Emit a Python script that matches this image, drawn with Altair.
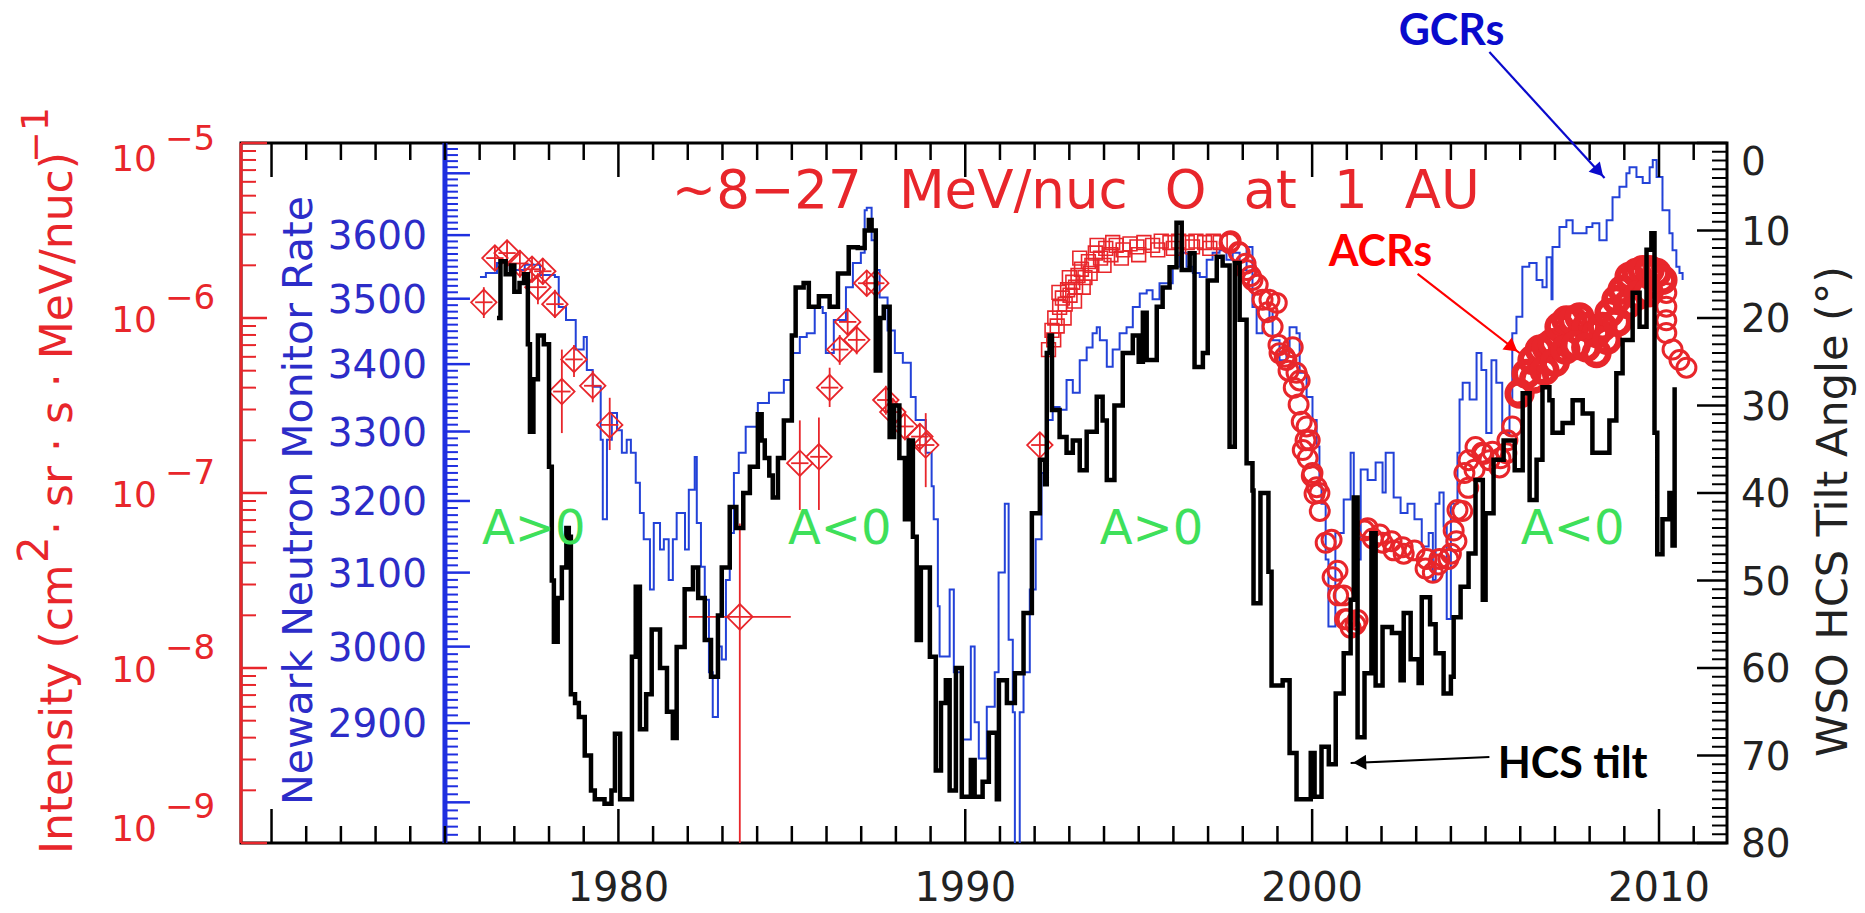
import altair as alt
import pandas as pd

# ---------------------------------------------------------------- layout
W, H = 1486, 700
PAD = {"left": 241, "top": 143, "right": 138, "bottom": 70}
X_DOMAIN = [1969.12, 2011.96]
TILT_DOMAIN = [0, 80]
INT_DOMAIN = [1e-9, 1e-5]
NM_DOMAIN = [2750, 3750]
NM_AXIS_YEAR = 1975

FONT = "DejaVu Sans"
BOLD = "Lato"
RED = "#e8262b"
BLUE_LINE = "#2342d8"
BLUE_AXIS = "#1f2fe0"
BLUE_TEXT = "#2c2cc8"
GREEN = "#3ee05a"
TXT = "#222222"

# ---------------------------------------------------------------- data
# WSO HCS tilt angle (deg), black stepped line
hcs_year = [1976.50, 1976.60, 1976.75, 1976.90, 1977.00, 1977.15, 1977.28, 1977.39, 1977.45, 1977.55,
            1977.68, 1977.85, 1978.00, 1978.08, 1978.14, 1978.25, 1978.37, 1978.50, 1978.57, 1978.63,
            1978.75, 1978.86, 1979.03, 1979.21, 1979.32, 1979.60, 1979.80, 1979.90, 1980.05, 1980.27,
            1980.39, 1980.50, 1980.62, 1980.80, 1980.96, 1981.20, 1981.40, 1981.57, 1981.68, 1981.91,
            1982.15, 1982.30, 1982.49, 1982.67, 1982.87, 1982.98, 1983.21, 1983.40, 1983.60, 1983.79,
            1984.02, 1984.13, 1984.22, 1984.35, 1984.45, 1984.60, 1984.77, 1985.00, 1985.11, 1985.34,
            1985.49, 1985.78, 1986.09, 1986.33, 1986.64, 1986.90, 1987.10, 1987.22, 1987.30, 1987.42,
            1987.55, 1987.65, 1987.82, 1987.95, 1988.10, 1988.26, 1988.37, 1988.49, 1988.60, 1988.72,
            1988.98, 1989.15, 1989.30, 1989.44, 1989.55, 1989.73, 1989.90, 1990.16, 1990.27, 1990.50,
            1990.68, 1990.91, 1990.97, 1991.20, 1991.43, 1991.68, 1991.92, 1992.15, 1992.30, 1992.35,
            1992.43, 1992.50, 1992.72, 1992.92, 1993.10, 1993.30, 1993.50, 1993.79, 1993.96, 1994.08,
            1994.30, 1994.54, 1994.83, 1995.00, 1995.12, 1995.23, 1995.52, 1995.69, 1995.89, 1996.09,
            1996.24, 1996.47, 1996.61, 1996.85, 1996.99, 1997.25, 1997.42, 1997.62, 1997.77, 1997.91,
            1998.11, 1998.28, 1998.31, 1998.51, 1998.74, 1998.83, 1999.15, 1999.35, 1999.55, 1999.96,
            2000.07, 2000.27, 2000.48, 2000.68, 2000.91, 2001.11, 2001.20, 2001.31, 2001.51, 2001.71,
            2001.83, 2002.03, 2002.30, 2002.55, 2002.64, 2002.84, 2003.07, 2003.16, 2003.40, 2003.56,
            2003.79, 2004.00, 2004.08, 2004.28, 2004.51, 2004.71, 2004.92, 2005.00, 2005.23, 2005.52,
            2005.84, 2006.07, 2006.27, 2006.47, 2006.64, 2006.84, 2006.93, 2007.22, 2007.51, 2007.80,
            2008.08, 2008.28, 2008.57, 2008.77, 2008.95, 2009.24, 2009.44, 2009.64, 2009.78, 2009.87,
            2009.95, 2010.10, 2010.30, 2010.39, 2010.45]
hcs_tilt = [20, 13.5, 15, 14, 17, 16, 15, 23, 33, 27,
            22, 23, 37, 50, 57, 52, 48.5, 44, 45, 63,
            64, 65.6, 70, 74, 75, 75.5, 74, 67.5, 75, 75,
            58.7, 50.7, 67, 63, 55.6, 60, 65, 68, 57.6, 51,
            48.5, 52, 56.8, 61, 54, 48.5, 41.6, 44, 40, 37,
            31, 34, 36, 38, 40.5, 36, 31.7, 22, 16.5, 16,
            18.7, 17.5, 18.7, 14.9, 11.9, 12, 10, 8.8, 10, 26,
            20, 18.7, 33.6, 30, 36, 43, 34, 45, 56.8, 48.5,
            58.7, 71.7, 64, 61.4, 74, 60, 74.7, 70.5, 74.7, 73,
            67.4, 75, 61.4, 64, 60.6, 53.7, 42.3, 36.2, 39, 24,
            22, 30.5, 33.6, 35.4, 34, 37.4, 33, 29, 31.7, 38.5,
            30, 24, 22, 25, 19.4, 24.8, 18.7, 16.5, 14.2, 9.1,
            14.5, 12.6, 25.6, 24, 15.7, 13, 14, 34.7, 13.7, 20.2,
            36.6, 39.7, 52.6, 40, 49, 62, 61.4, 69.7, 75, 69.7,
            74.7, 69, 71, 62.9, 58.3, 52.2, 40.5, 67.9, 60.6, 44.6,
            62, 55.3, 56, 61.4, 53.7, 59, 61.7, 51.9, 55, 58.3,
            62.9, 61, 54.2, 50.7, 46.9, 38.5, 52.2, 42.3, 36.2, 34,
            37.4, 28.6, 40.8, 36.2, 27.9, 29.4, 33.1, 32, 29.4, 30.9,
            35.4, 35.4, 31.7, 26.3, 22.5, 17.1, 21, 12.2, 10.3, 33.1,
            47, 43, 40, 46, 27.9]

# Newark neutron monitor rate (GCRs), blue stepped line
nm_year = [1976.01, 1976.18, 1976.50, 1976.87, 1977.30, 1977.74, 1978.17, 1978.28, 1978.49, 1978.77,
           1979.00, 1979.09, 1979.26, 1979.49, 1979.55, 1979.67, 1979.81, 1979.96, 1980.10, 1980.24,
           1980.36, 1980.50, 1980.62, 1980.73, 1980.91, 1981.02, 1981.20, 1981.31, 1981.45, 1981.57,
           1981.68, 1981.92, 1982.03, 1982.20, 1982.26, 1982.38, 1982.49, 1982.61, 1982.72, 1982.87,
           1982.98, 1983.10, 1983.21, 1983.33, 1983.47, 1983.67, 1984.02, 1984.34, 1984.77, 1985.00,
           1985.23, 1985.43, 1985.66, 1985.89, 1985.98, 1986.21, 1986.56, 1986.76, 1986.99, 1987.10,
           1987.16, 1987.30, 1987.42, 1987.53, 1987.76, 1987.97, 1988.20, 1988.43, 1988.57, 1988.86,
           1989.03, 1989.09, 1989.21, 1989.26, 1989.55, 1989.67, 1989.90, 1990.16, 1990.27, 1990.39,
           1990.62, 1990.85, 1990.96, 1991.14, 1991.25, 1991.37, 1991.43, 1991.57, 1991.68, 1991.86,
           1992.03, 1992.20, 1992.35, 1992.52, 1992.72, 1992.92, 1993.10, 1993.30, 1993.50, 1993.67,
           1993.79, 1993.88, 1994.08, 1994.25, 1994.45, 1994.65, 1994.83, 1995.03, 1995.23, 1995.40,
           1995.60, 1995.81, 1995.98, 1996.18, 1996.38, 1996.56, 1996.76, 1996.96, 1997.13, 1997.33,
           1997.53, 1997.71, 1997.91, 1998.11, 1998.28, 1998.40, 1998.57, 1998.77, 1998.86, 1999.06,
           1999.26, 1999.35, 1999.55, 1999.64, 1999.84, 2000.01, 2000.13, 2000.21, 2000.27, 2000.39,
           2000.47, 2000.67, 2000.91, 2001.11, 2001.20, 2001.40, 2001.60, 2001.83, 2002.03, 2002.12,
           2002.35, 2002.55, 2002.75, 2002.95, 2003.16, 2003.36, 2003.48, 2003.56, 2003.67, 2003.79,
           2003.88, 2004.00, 2004.19, 2004.25, 2004.34, 2004.54, 2004.74, 2004.88, 2005.02, 2005.17,
           2005.31, 2005.48, 2005.69, 2005.77, 2005.89, 2006.06, 2006.26, 2006.47, 2006.64, 2006.76,
           2006.90, 2006.93, 2007.13, 2007.33, 2007.51, 2007.71, 2007.91, 2008.08, 2008.28, 2008.49,
           2008.66, 2008.86, 2009.06, 2009.15, 2009.35, 2009.53, 2009.73, 2009.82, 2009.93, 2010.10,
           2010.30, 2010.39, 2010.50, 2010.59, 2010.68]
nm_rate = [3534, 3540, 3556, 3545, 3553, 3537, 3534, 3487, 3467, 3422,
           3441, 3391, 3366, 3288, 3174, 3288, 3327, 3302, 3269, 3288,
           3269, 3226, 3183, 3146, 3077, 3169, 3132, 3146, 3090, 3146,
           3183, 3132, 3216, 3263, 3169, 3108, 3063, 2966, 2908, 3000,
           2983, 3090, 3155, 3240, 3269, 3307, 3342, 3357, 3376, 3417,
           3441, 3447, 3487, 3478, 3417, 3467, 3518, 3556, 3572, 3640,
           3644, 3592, 3545, 3502, 3451, 3417, 3402, 3351, 3317, 3269,
           3221, 3174, 3054, 2987, 3077, 2966, 2879, 3000, 2901, 2855,
           2921, 2966, 3100, 3196, 3009, 2914, 2700, 2914, 2966, 3077,
           3146, 3240, 3317, 3336, 3332, 3376, 3357, 3406, 3425, 3447,
           3456, 3436, 3396, 3422, 3447, 3456, 3487, 3508, 3513, 3499,
           3524, 3524, 3550, 3572, 3550, 3540, 3534, 3561, 3572, 3576,
           3561, 3572, 3545, 3581, 3487, 3447, 3467, 3483, 3436, 3406,
           3422, 3456, 3447, 3387, 3351, 3317, 3278, 3221, 3196, 3118,
           3027, 3155, 3202, 3269, 3118, 3245, 3230, 3255, 3212, 3269,
           3205, 3183, 3196, 3174, 3136, 3155, 3090, 3196, 3212, 3164,
           3037, 3196, 3269, 3347, 3372, 3347, 3417, 3391, 3298, 3406,
           3372, 3298, 3347, 3447, 3472, 3550, 3556, 3529, 3518, 3565,
           3499, 3581, 3613, 3624, 3603, 3603, 3613, 3619, 3592, 3624,
           3661, 3678, 3700, 3710, 3694, 3684, 3710, 3722, 3694, 3640,
           3603, 3576, 3550, 3540, 3529]

# ACR oxygen intensity: diamonds with error bars (1976-1992)
dia_year = [1976.12, 1976.44, 1976.79, 1977.16, 1977.51, 1977.68, 1977.82, 1978.17, 1978.37, 1978.72,
            1979.26, 1979.75, 1983.50, 1985.23, 1985.78, 1986.09, 1986.38, 1986.61, 1986.87, 1987.16,
            1987.42, 1987.71, 1987.91, 1988.26, 1988.69, 1988.86, 1992.15]
dia_int = [1.23e-6, 2.2e-6, 2.35e-6, 2.05e-6, 1.9e-6, 1.5e-6, 1.85e-6, 1.2e-6, 3.8e-7, 5.8e-7,
           4.1e-7, 2.45e-7, 1.96e-8, 1.48e-7, 1.61e-7, 4.0e-7, 6.6e-7, 9.5e-7, 7.5e-7, 1.58e-6,
           1.58e-6, 3.4e-7, 2.9e-7, 2.4e-7, 2.1e-7, 1.88e-7, 1.88e-7]
dia_lo = [1.0e-6, 1.85e-6, 2.0e-6, 1.7e-6, 1.6e-6, 1.2e-6, 1.55e-6, 1.0e-6, 2.2e-7, 4.6e-7,
          3.3e-7, 1.76e-7, 1e-10, 8.0e-8, 8.0e-8, 3.1e-7, 5.4e-7, 7.9e-7, 6.2e-7, 1.33e-6,
          1.33e-6, 2.8e-7, 2.4e-7, 2.0e-7, 1.7e-7, 1.08e-7, 1.6e-7]
dia_hi = [1.5e-6, 2.6e-6, 2.8e-6, 2.45e-6, 2.25e-6, 1.8e-6, 2.2e-6, 1.45e-6, 6.6e-7, 7.0e-7,
          5.0e-7, 3.5e-7, 6.7e-8, 2.6e-7, 2.7e-7, 5.2e-7, 8.0e-7, 1.14e-6, 9.0e-7, 1.88e-6,
          1.88e-6, 4.1e-7, 3.5e-7, 2.9e-7, 2.5e-7, 2.86e-7, 2.2e-7]
dia_xlo = [1975.87, 1976.19, 1976.54, 1976.91, 1977.26, 1977.43, 1977.57, 1977.92, 1978.12, 1978.47,
           1979.01, 1979.50, 1982.03, 1984.98, 1985.53, 1985.84, 1986.13, 1986.36, 1986.62, 1986.91,
           1987.17, 1987.46, 1987.66, 1988.01, 1988.44, 1988.61, 1991.90]
dia_xhi = [1976.37, 1976.69, 1977.04, 1977.41, 1977.76, 1977.93, 1978.07, 1978.42, 1978.62, 1978.97,
           1979.51, 1980.00, 1984.97, 1985.48, 1986.03, 1986.34, 1986.63, 1986.86, 1987.12, 1987.41,
           1987.67, 1987.96, 1988.16, 1988.51, 1988.94, 1989.11, 1992.40]

# ACR squares (1992-1997)
sq_year = [1992.40, 1992.50, 1992.55, 1992.58, 1992.65, 1992.70, 1992.72, 1992.80, 1992.85, 1992.88,
           1992.95, 1993.00, 1993.02, 1993.10, 1993.15, 1993.18, 1993.25, 1993.30, 1993.35, 1993.40,
           1993.45, 1993.55, 1993.60, 1993.65, 1993.75, 1993.80, 1993.90, 1994.00, 1994.05, 1994.20,
           1994.25, 1994.35, 1994.50, 1994.55, 1994.75, 1994.95, 1995.00, 1995.15, 1995.40, 1995.55,
           1995.65, 1995.90, 1996.00, 1996.15, 1996.40, 1996.55, 1996.65, 1996.90, 1997.05, 1997.15,
           1997.35]
sq_int = [6.6e-7, 8.5e-7, 7.5e-7, 1.0e-6, 9.0e-7, 1.4e-6, 1.15e-6, 1.3e-6, 1.0e-6, 1.2e-6,
          1.45e-6, 1.7e-6, 1.35e-6, 1.6e-6, 1.25e-6, 1.5e-6, 1.75e-6, 2.2e-6, 1.9e-6, 1.5e-6,
          1.7e-6, 2.1e-6, 1.8e-6, 2.0e-6, 2.35e-6, 2.6e-6, 2.2e-6, 2.0e-6, 2.5e-6, 2.3e-6,
          2.7e-6, 2.6e-6, 2.2e-6, 2.45e-6, 2.65e-6, 2.55e-6, 2.3e-6, 2.7e-6, 2.6e-6, 2.45e-6,
          2.75e-6, 2.7e-6, 2.5e-6, 2.75e-6, 2.7e-6, 2.55e-6, 2.75e-6, 2.7e-6, 2.5e-6, 2.75e-6,
          2.7e-6]

# ACR circles (1997-2011)
circ_year = [1997.62, 1997.65, 1997.88, 1997.91, 1998.08, 1998.11, 1998.23, 1998.28, 1998.43, 1998.57,
             1998.72, 1998.77, 1998.86, 1998.98, 1999.03, 1999.06, 1999.21, 1999.26, 1999.32, 1999.44,
             1999.47, 1999.55, 1999.61, 1999.64, 1999.70, 1999.73, 1999.81, 1999.84, 1999.87, 1999.93,
             1999.99, 2000.01, 2000.07, 2000.13, 2000.21, 2000.22, 2000.39, 2000.56, 2000.59, 2000.73,
             2000.75, 2000.91, 2000.95, 2001.02, 2001.11, 2001.25, 2001.31, 2001.51, 2001.60, 2001.75,
             2001.95, 2002.03, 2002.29, 2002.35, 2002.61, 2002.64, 2002.95, 2003.27, 2003.30, 2003.48,
             2003.64, 2003.67, 2003.93, 2004.00, 2004.08, 2004.16, 2004.19, 2004.33, 2004.39, 2004.50,
             2004.51, 2004.68, 2004.71, 2004.90, 2004.94, 2005.11, 2005.20, 2005.40, 2005.43, 2005.60,
             2005.63, 2005.77, 2005.92,
             2010.21, 2010.21, 2010.21, 2010.21, 2010.39, 2010.59, 2010.79]
circ_int = [2.68e-6, 2.75e-6, 2.38e-6, 2.35e-6, 2.04e-6, 1.88e-6, 1.74e-6, 1.65e-6, 1.55e-6, 1.27e-6,
            1.08e-6, 1.27e-6, 8.9e-7, 1.22e-6, 7.0e-7, 6.3e-7, 6.0e-7, 5.75e-7, 5.0e-7, 6.8e-7,
            4.0e-7, 4.86e-7, 3.2e-7, 4.4e-7, 2.55e-7, 1.76e-7, 2.0e-7, 2.4e-7, 1.58e-7, 2.0e-7,
            1.25e-7, 1.3e-7, 9.9e-8, 1.08e-7, 1.0e-7, 7.9e-8, 5.2e-8, 5.4e-8, 3.3e-8, 3.6e-8,
            2.6e-8, 2.6e-8, 1.9e-8, 1.9e-8, 1.7e-8, 1.77e-8, 1.88e-8, 6.1e-8, 6.3e-8, 5.5e-8,
            5.8e-8, 5.2e-8, 5.3e-8, 4.7e-8, 4.9e-8, 4.5e-8, 4.7e-8, 3.7e-8, 4.2e-8, 3.5e-8,
            3.9e-8, 4.2e-8, 4.2e-8, 4.5e-8, 6.1e-8, 5.3e-8, 8.0e-8, 7.9e-8, 1.3e-7, 1.07e-7,
            1.54e-7, 1.36e-7, 1.83e-7, 1.7e-7, 1.67e-7, 1.54e-7, 1.72e-7, 1.4e-7, 1.58e-7, 1.69e-7,
            2.0e-7, 2.4e-7, 3.7e-7,
            1.39e-6, 1.16e-6, 9.7e-7, 8.2e-7, 6.6e-7, 5.75e-7, 5.2e-7]
# dense heavy circles 2006-2010
blob_year = [2005.98, 2006.18, 2006.35, 2006.56, 2006.76, 2006.93, 2007.13, 2007.33, 2007.51, 2007.71,
             2007.91, 2008.20, 2008.37, 2008.57, 2008.77, 2008.95, 2009.15, 2009.35, 2009.53, 2009.73,
             2009.93, 2010.10, 2006.40, 2006.70, 2007.00, 2007.30, 2007.60, 2007.90, 2008.20, 2008.50,
             2008.80, 2009.10, 2009.40, 2009.70]
blob_int = [3.7e-7, 4.8e-7, 5.75e-7, 6.6e-7, 6.8e-7, 7.2e-7, 8.9e-7, 9.7e-7, 9.7e-7, 1.01e-6,
            8.9e-7, 8.2e-7, 8.9e-7, 1.07e-6, 1.27e-6, 1.45e-6, 1.72e-6, 1.81e-6, 1.88e-6, 1.88e-6,
            1.81e-6, 1.65e-6, 4.5e-7, 5.0e-7, 5.6e-7, 6.6e-7, 7.0e-7, 6.8e-7, 6.3e-7, 7.5e-7,
            9.5e-7, 1.2e-6, 1.35e-6, 1.4e-6]

# ticks and labels
year_major = [1970, 1980, 1990, 2000, 2010]
year_minor = [y for y in range(1970, 2012) if y % 10 != 0]
year_labels = [1980, 1990, 2000, 2010]
tilt_major = [0, 10, 20, 30, 40, 50, 60, 70, 80]
tilt_minor = [t for t in range(1, 80) if t % 10 != 0]
int_major = [1e-9, 1e-8, 1e-7, 1e-6, 1e-5]
int_exponents = [-9, -8, -7, -6, -5]
int_minor = [k * 10.0 ** e for e in range(-9, -5) for k in range(2, 10)]
nm_major = list(range(2800, 3800, 100))
nm_minor = [v for v in range(2760, 3750, 10) if v % 100 != 0]
nm_labels = [2900, 3000, 3100, 3200, 3300, 3400, 3500, 3600]

# in-plot annotations (year, tilt-axis position)
polarity_text = ["A>0", "A<0", "A>0", "A<0"]
polarity_year = [1977.56, 1986.38, 1995.37, 2007.51]
polarity_tilt = [44.2, 44.2, 44.2, 44.2]
title_text = "~8\u221227\u2002\u2009MeV/nuc\u2002\u2009O\u2002\u2009at\u2002\u20091\u2002\u2009AU"
title_pos = (1981.54, 7.43)
tag_text = ["GCRs", "ACRs", "HCS tilt"]
tag_year = [2004.02, 2001.97, 2007.51]
tag_tilt = [-11.2, 14.0, 72.6]          # text baselines
tag_color = ["#0a0acc", "#ff0000", "#000000"]
arrow_x0 = [2005.11, 2003.04, 2005.11]
arrow_y0 = [-10.4, 14.97, 70.17]
arrow_x1 = [2008.43, 2005.98, 2001.11]
arrow_y1 = [4.0, 24.0, 70.86]
head_x = [2008.26, 2005.77, 2001.37]
head_y = [3.25, 23.37, 70.8]
head_angle = [137.6, 127.7, 267.5]

# ---------------------------------------------------------------- scales
xs = alt.Scale(domain=X_DOMAIN, nice=False, zero=False)
ts = alt.Scale(domain=TILT_DOMAIN, reverse=True, nice=False, zero=False)
rs = alt.Scale(type="log", domain=INT_DOMAIN, nice=False)
bs = alt.Scale(type="log", domain=NM_DOMAIN, nice=False)


def xq(f):
    return alt.X(f"{f}:Q", scale=xs, axis=None)


def ty(f):
    return alt.Y(f"{f}:Q", scale=ts, axis=None)


def ry(f):
    return alt.Y(f"{f}:Q", scale=rs, axis=None)


def by(f):
    return alt.Y(f"{f}:Q", scale=bs, axis=None)


def one(**kw):
    return pd.DataFrame({k: [v] for k, v in kw.items()})


# ---------------------------------------------------------------- blue group
nm_df = pd.DataFrame({"year": nm_year, "rate": nm_rate})
blue_line = alt.Chart(nm_df).mark_line(
    interpolate="step-after", color=BLUE_LINE, strokeWidth=2, clip=True
).encode(x=xq("year"), y=by("rate"))

blue_axis = alt.Chart(one(year=NM_AXIS_YEAR)).mark_rule(color=BLUE_AXIS, strokeWidth=5).encode(
    x=xq("year"), y=alt.value(0), y2=alt.value(H))
blue_major = alt.Chart(pd.DataFrame({"v": nm_major, "year": NM_AXIS_YEAR})).mark_tick(
    orient="horizontal", size=25, thickness=2.5, xOffset=12.5, color=BLUE_AXIS, opacity=1
).encode(x=xq("year"), y=by("v"))
blue_minor = alt.Chart(pd.DataFrame({"v": nm_minor, "year": NM_AXIS_YEAR})).mark_tick(
    orient="horizontal", size=13, thickness=2, xOffset=6.5, color=BLUE_AXIS, opacity=1
).encode(x=xq("year"), y=by("v"))
blue_labels = alt.Chart(pd.DataFrame({"v": nm_labels, "year": NM_AXIS_YEAR,
                                      "t": [str(v) for v in nm_labels]})).mark_text(
    align="right", baseline="middle", dx=-18, dy=2, fontSize=39, font=FONT, color=BLUE_TEXT
).encode(x=xq("year"), y=by("v"), text="t:N")

blue_group = alt.layer(blue_line, blue_axis, blue_minor, blue_major, blue_labels)

# ---------------------------------------------------------------- red group
red_axis = alt.Chart(one(a=0)).mark_rule(color=RED, strokeWidth=3).encode(
    x=alt.value(0), y=alt.value(0), y2=alt.value(H))
red_major = alt.Chart(pd.DataFrame({"v": int_major})).mark_tick(
    orient="horizontal", size=26, thickness=2.5, color=RED, opacity=1
).encode(x=alt.value(13), y=ry("v"))
red_minor = alt.Chart(pd.DataFrame({"v": int_minor})).mark_tick(
    orient="horizontal", size=15, thickness=2, color=RED, opacity=1
).encode(x=alt.value(7.5), y=ry("v"))

lab_df = pd.DataFrame({"v": int_major, "b": ["10"] * len(int_major),
                       "e": ["\u2212" + str(abs(e)) for e in int_exponents]})


def red_label_layers(filt, dy_base, dy_exp):
    base = alt.Chart(lab_df).transform_filter(filt).mark_text(
        align="right", baseline="middle", dx=-84, dy=dy_base, fontSize=36, font=FONT, color=RED
    ).encode(x=alt.value(0), y=ry("v"), text="b:N")
    exp = alt.Chart(lab_df).transform_filter(filt).mark_text(
        align="left", baseline="middle", dx=-76, dy=dy_exp, fontSize=34, font=FONT, color=RED
    ).encode(x=alt.value(0), y=ry("v"), text="e:N")
    return [base, exp]


red_labels = (red_label_layers("datum.v > 2e-9 && datum.v < 5e-6", 3, -19)
              + red_label_layers("datum.v >= 5e-6", 17, -3)
              + red_label_layers("datum.v <= 2e-9", -13, -35))

dia_df = pd.DataFrame({"year": dia_year, "v": dia_int, "lo": dia_lo, "hi": dia_hi,
                       "xlo": dia_xlo, "xhi": dia_xhi})
err_v = alt.Chart(dia_df).mark_rule(color=RED, strokeWidth=1.8, clip=True).encode(
    x=xq("year"), y=ry("lo"), y2=alt.Y2("hi:Q"))
err_h = alt.Chart(dia_df).mark_rule(color=RED, strokeWidth=1.8, clip=True).encode(
    x=xq("xlo"), x2=alt.X2("xhi:Q"), y=ry("v"))
diamonds = alt.Chart(dia_df).mark_point(
    shape="diamond", size=650, strokeWidth=1.8, filled=False, color=RED, opacity=1
).encode(x=xq("year"), y=ry("v"))
squares = alt.Chart(pd.DataFrame({"year": sq_year, "v": sq_int})).mark_point(
    shape="square", size=190, strokeWidth=1.6, filled=False, color=RED, opacity=1
).encode(x=xq("year"), y=ry("v"))
circles = alt.Chart(pd.DataFrame({"year": circ_year, "v": circ_int})).mark_point(
    shape="circle", size=360, strokeWidth=3, filled=False, color=RED, opacity=1
).encode(x=xq("year"), y=ry("v"))
blob = alt.Chart(pd.DataFrame({"year": blob_year, "v": blob_int})).mark_point(
    shape="circle", size=560, strokeWidth=6.5, filled=False, color=RED, opacity=1
).encode(x=xq("year"), y=ry("v"))

red_group = alt.layer(red_axis, red_minor, red_major, *red_labels,
                      err_v, err_h, diamonds, squares, circles, blob)

# ---------------------------------------------------------------- tilt group (black)
hcs_df = pd.DataFrame({"year": hcs_year, "tilt": hcs_tilt})
black_line = alt.Chart(hcs_df).mark_line(
    interpolate="step-after", color="black", strokeWidth=4.5
).encode(x=xq("year"), y=ty("tilt"))

r_major = alt.Chart(pd.DataFrame({"v": tilt_major})).mark_tick(
    orient="horizontal", size=30, thickness=2.5, color="black", opacity=1
).encode(x=alt.value(W - 15), y=ty("v"))
r_minor = alt.Chart(pd.DataFrame({"v": tilt_minor})).mark_tick(
    orient="horizontal", size=15, thickness=2, color="black", opacity=1
).encode(x=alt.value(W - 7.5), y=ty("v"))
tl_df = pd.DataFrame({"v": tilt_major, "t": [str(v) for v in tilt_major]})
r_labels = alt.Chart(tl_df).transform_filter("datum.v > 0").mark_text(
    align="left", baseline="middle", dx=14, dy=2, fontSize=39, font=FONT, color=TXT
).encode(x=alt.value(W), y=ty("v"), text="t:N")
r_label0 = alt.Chart(tl_df).transform_filter("datum.v == 0").mark_text(
    align="left", baseline="middle", dx=14, dy=20, fontSize=39, font=FONT, color=TXT
).encode(x=alt.value(W), y=ty("v"), text="t:N")

b_major = alt.Chart(pd.DataFrame({"year": year_major})).mark_tick(
    orient="vertical", size=34, thickness=2.5, color="black", opacity=1
).encode(x=xq("year"), y=alt.value(H - 17))
b_minor = alt.Chart(pd.DataFrame({"year": year_minor})).mark_tick(
    orient="vertical", size=17, thickness=2.5, color="black", opacity=1
).encode(x=xq("year"), y=alt.value(H - 8.5))
t_major = alt.Chart(pd.DataFrame({"year": year_major})).mark_tick(
    orient="vertical", size=34, thickness=2.5, color="black", opacity=1
).encode(x=xq("year"), y=alt.value(17))
t_minor = alt.Chart(pd.DataFrame({"year": year_minor})).mark_tick(
    orient="vertical", size=17, thickness=2.5, color="black", opacity=1
).encode(x=xq("year"), y=alt.value(8.5))
b_labels = alt.Chart(pd.DataFrame({"year": year_labels,
                                   "t": [str(y) for y in year_labels]})).mark_text(
    align="center", baseline="middle", fontSize=40, font=FONT, color=TXT
).encode(x=xq("year"), y=alt.value(H + 46), text="t:N")

polarity = alt.Chart(pd.DataFrame({"year": polarity_year, "tilt": polarity_tilt,
                                   "t": polarity_text})).mark_text(
    align="center", baseline="middle", fontSize=48, font=FONT, color=GREEN
).encode(x=xq("year"), y=ty("tilt"), text="t:N")
title = alt.Chart(one(year=title_pos[0], tilt=title_pos[1], t=title_text)).mark_text(
    align="left", baseline="alphabetic", fontSize=53, font=FONT, color=RED
).encode(x=xq("year"), y=ty("tilt"), text="t:N")

arrow_df = pd.DataFrame({"x0": arrow_x0, "y0": arrow_y0, "x1": arrow_x1, "y1": arrow_y1,
                         "c": tag_color})
arrows = alt.Chart(arrow_df).mark_rule(strokeWidth=2.2).encode(
    x=xq("x0"), x2=alt.X2("x1:Q"), y=ty("y0"), y2=alt.Y2("y1:Q"),
    color=alt.Color("c:N", scale=None))
heads = alt.Chart(pd.DataFrame({"x": head_x, "y": head_y, "a": head_angle, "c": tag_color})).mark_point(
    shape="triangle-up", filled=True, size=230, opacity=1
).encode(x=xq("x"), y=ty("y"), angle=alt.Angle("a:Q", scale=None),
         color=alt.Color("c:N", scale=None))
tags = alt.Chart(pd.DataFrame({"year": tag_year, "tilt": tag_tilt, "t": tag_text,
                               "c": tag_color})).mark_text(
    align="center", baseline="alphabetic", fontSize=43, font=BOLD, fontWeight="bold"
).encode(x=xq("year"), y=ty("tilt"), text="t:N", color=alt.Color("c:N", scale=None))


def side_text(text, x, y, size, color):
    return alt.Chart(one(t=text)).mark_text(
        angle=270, align="left", baseline="alphabetic", fontSize=size, font=FONT, color=color
    ).encode(x=alt.value(x), y=alt.value(y), text="t:N")


axis_titles = [
    side_text("Intensity (cm", -169, 711, 44, RED),
    side_text("2", -193, 420, 42, RED),
    side_text("\u00b7 sr \u00b7 s \u00b7 MeV/nuc)", -169, 392, 44, RED),
    side_text("\u22121", -193, 20, 38, RED),
    side_text("Newark Neutron Monitor Rate", 71, 662, 41, BLUE_TEXT),
    side_text("WSO HCS Tilt Angle (\u00b0)", 1606, 614, 43, TXT),
]

tilt_group = alt.layer(black_line, r_minor, r_major, r_labels, r_label0,
                       b_minor, b_major, t_minor, t_major, b_labels,
                       polarity, title, arrows, heads, tags, *axis_titles)

chart = alt.layer(blue_group, red_group, tilt_group).resolve_scale(
    y="independent"
).properties(
    width=W, height=H, padding=PAD,
    autosize=alt.AutoSizeParams(type="none"),
    background="white",
).configure_view(stroke="black", strokeWidth=3)

chart.save("out.html", embed_options={"renderer": "svg", "actions": False})
